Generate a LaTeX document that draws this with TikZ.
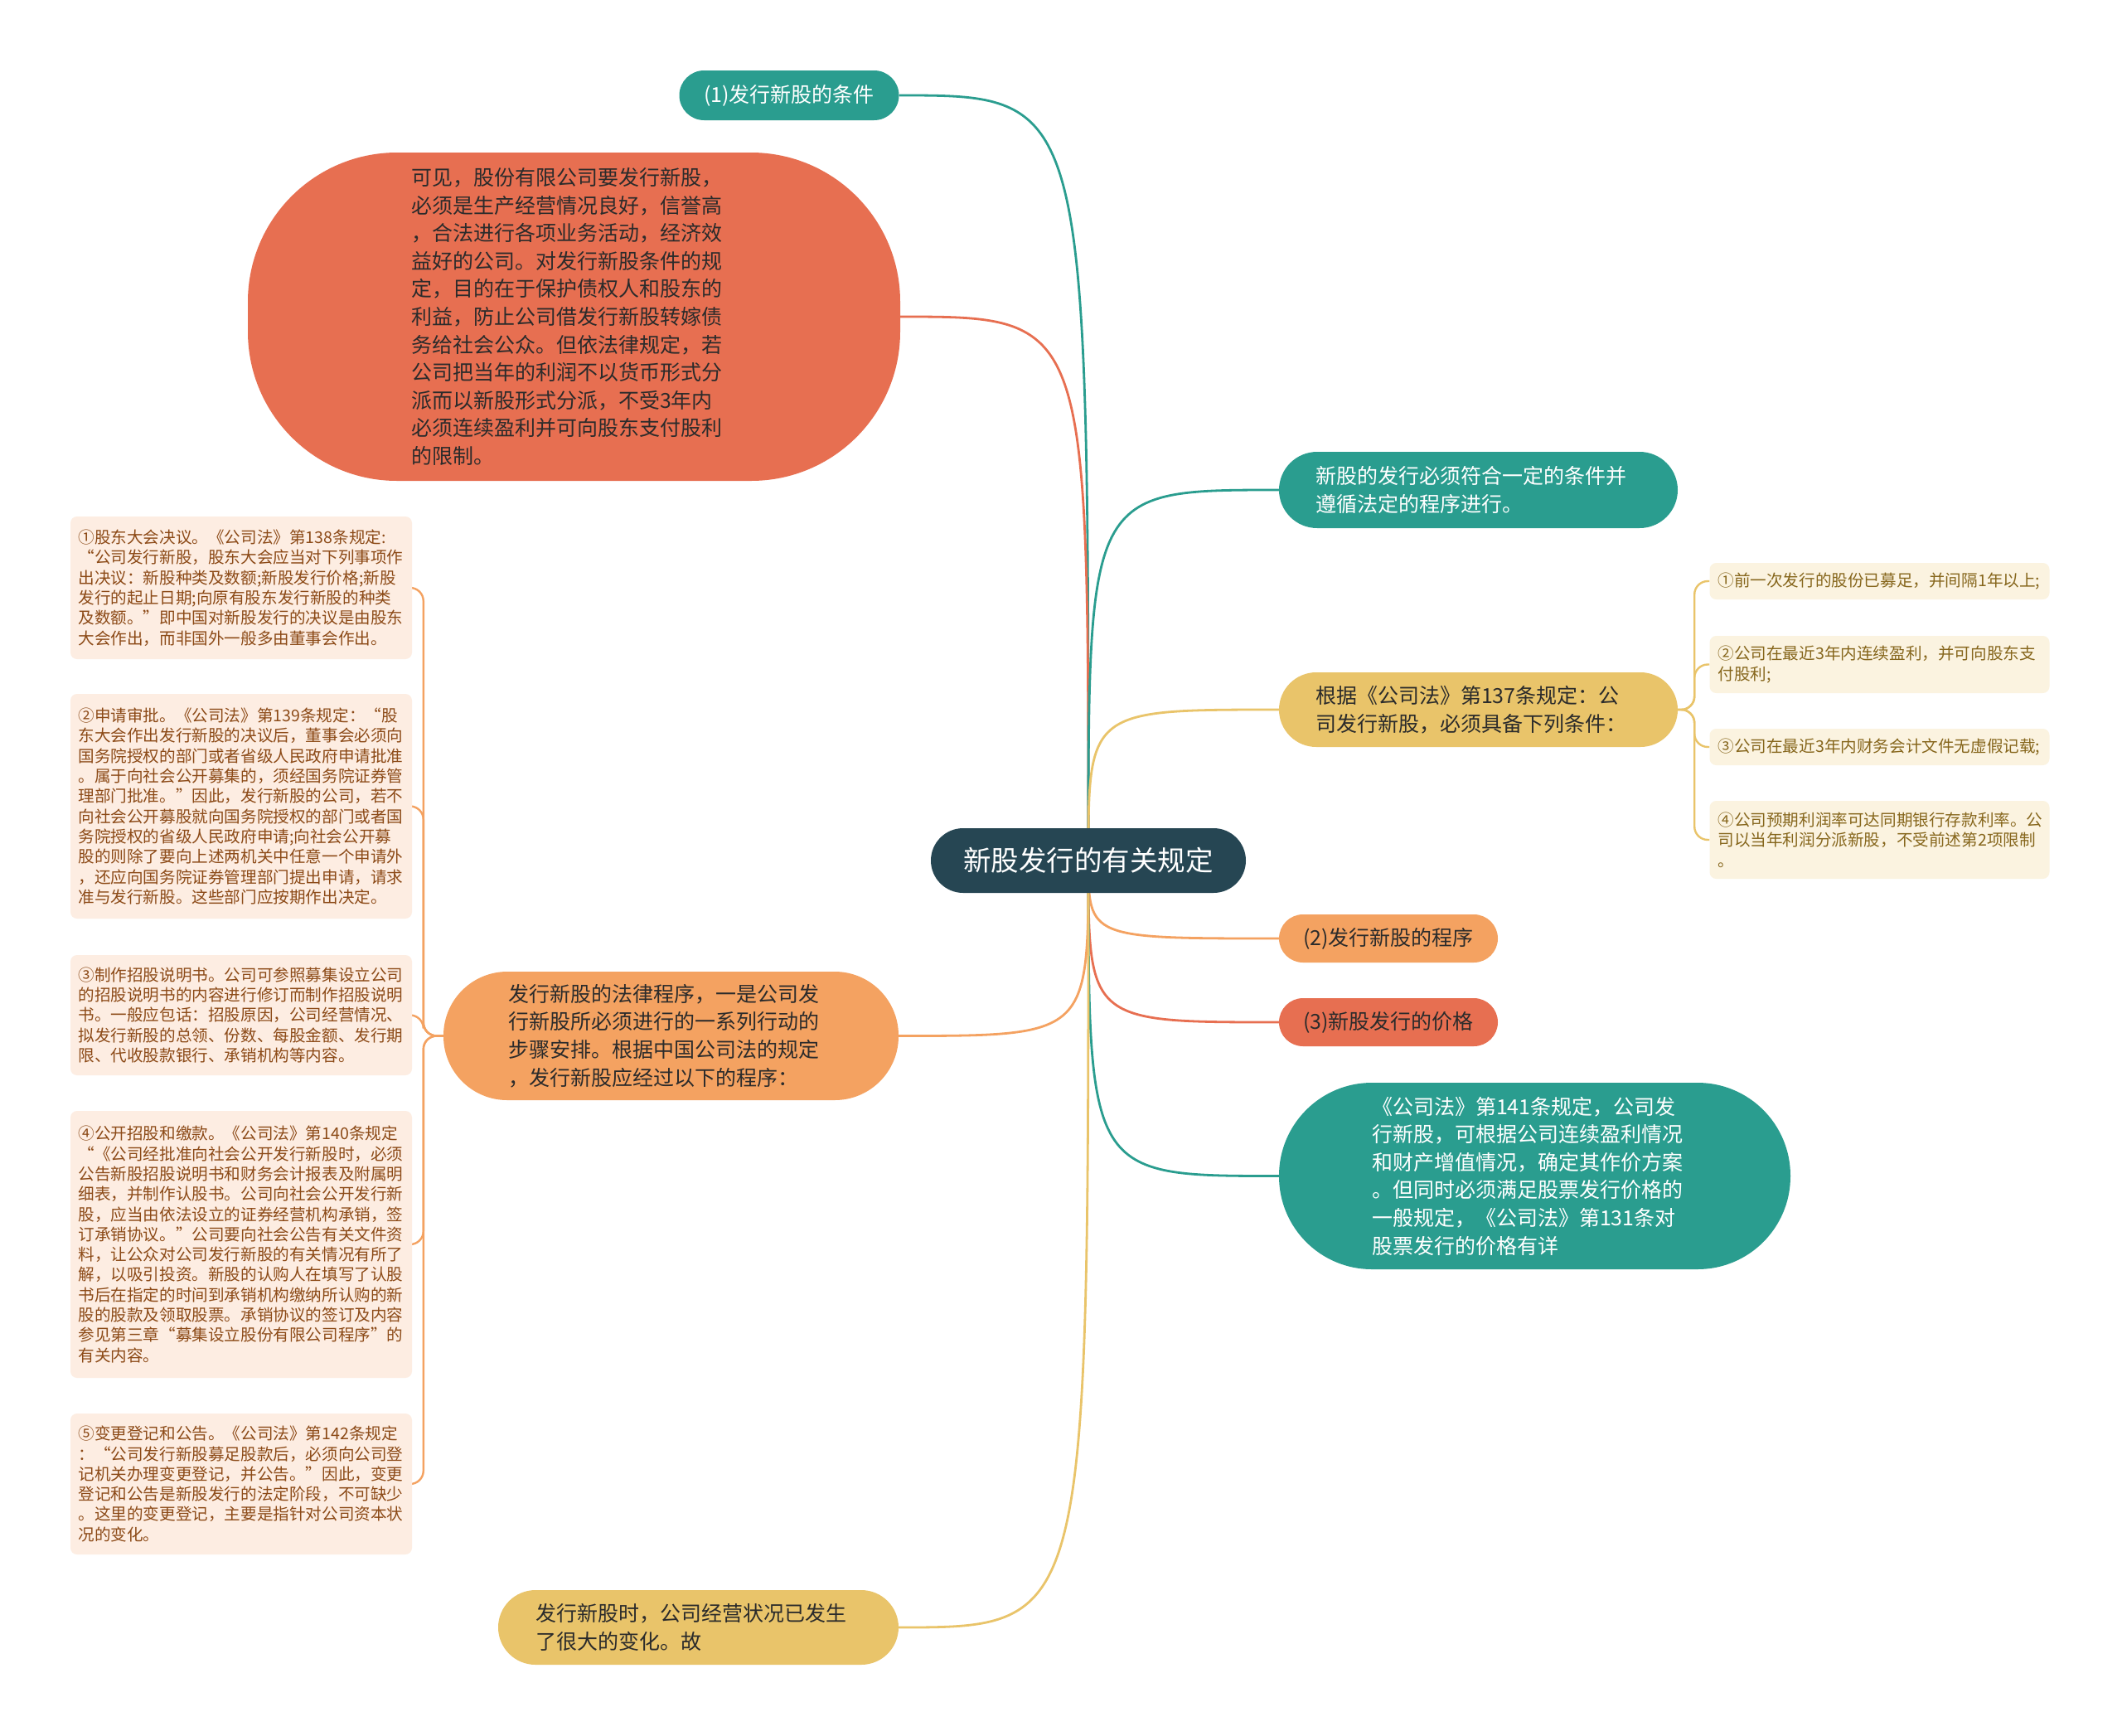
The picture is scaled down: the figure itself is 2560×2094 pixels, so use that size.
\documentclass[tikz,border=0pt]{standalone}
\usepackage{fontspec}
\setmainfont{Noto Sans CJK SC}
\usetikzlibrary{backgrounds}
\definecolor{cteal}{HTML}{2A9D8F}
\definecolor{cyellow}{HTML}{E9C46A}
\definecolor{corange}{HTML}{F4A261}
\definecolor{cred}{HTML}{E76F51}
\definecolor{croot}{HTML}{264653}
\definecolor{cdark}{HTML}{2B2B2B}
\definecolor{lfill}{HTML}{FDEDE2}
\definecolor{ltext}{HTML}{8C4A17}
\definecolor{rfill}{HTML}{FBF3E0}
\definecolor{rtext}{HTML}{86661C}
\tikzset{
  bigtext/.style={font=\fontsize{25}{33.6}\selectfont, align=left, text width=393, inner sep=0pt},
  pill/.style={font=\fontsize{25}{30}\selectfont, align=center, inner sep=0pt, minimum height=60, minimum width=265, rounded corners=30},
  leftbox/.style={font=\fontsize{19.6}{24.3}\selectfont, align=left, text width=393, inner sep=0pt, minimum width=412, fill=lfill, text=ltext, rounded corners=8},
  rightbox/.style={font=\fontsize{19.6}{24.5}\selectfont, align=left, text width=390, inner sep=0pt, minimum width=410, fill=rfill, text=rtext, rounded corners=8},
  conn/.style={line width=2.8pt},
  subconn/.style={line width=2.4pt, rounded corners=16},
}
\begin{document}
\begin{tikzpicture}[x=1pt,y=-1pt]
\useasboundingbox (0,0) rectangle (2560,2094);

% root
\node[fill=croot, text=white, font=\fontsize{33.5}{40}\selectfont, minimum width=380, minimum height=78, rounded corners=39, inner sep=0pt] (root) at (1313,1038) {新股发行的有关规定};

% top / left main nodes
\node[pill, fill=cteal, text=white] (c1) at (952,115) {(1)发行新股的条件};

\node[bigtext, fill=cred, text=cdark, minimum width=787, minimum height=396, rounded corners=180] (red) at (692.5,382) {可见，股份有限公司要发行新股，\\必须是生产经营情况良好，信誉高\\，合法进行各项业务活动，经济效\\益好的公司。对发行新股条件的规\\定，目的在于保护债权人和股东的\\利益，防止公司借发行新股转嫁债\\务给社会公众。但依法律规定，若\\公司把当年的利润不以货币形式分\\派而以新股形式分派，不受3年内\\必须连续盈利并可向股东支付股利\\的限制。};

\node[bigtext, fill=corange, text=cdark, minimum width=549, minimum height=155, rounded corners=77] (proc) at (809.5,1249.5) {发行新股的法律程序，一是公司发\\行新股所必须进行的一系列行动的\\步骤安排。根据中国公司法的规定\\，发行新股应经过以下的程序：};

\node[bigtext, fill=cyellow, text=cdark, minimum width=483, minimum height=90, rounded corners=45] (bot) at (842.5,1963) {发行新股时，公司经营状况已发生\\了很大的变化。故};

% right main nodes
\node[bigtext, fill=cteal, text=white, minimum width=481, minimum height=92, rounded corners=46] (cond) at (1783.5,591) {新股的发行必须符合一定的条件并\\遵循法定的程序进行。};

\node[bigtext, fill=cyellow, text=cdark, minimum width=481, minimum height=90, rounded corners=45] (gen) at (1783.5,856) {根据《公司法》第137条规定：公\\司发行新股，必须具备下列条件：};

\node[pill, fill=corange, text=cdark, minimum width=264, minimum height=58, rounded corners=29] (c2) at (1675,1132) {(2)发行新股的程序};
\node[pill, fill=cred, text=cdark, minimum width=264, minimum height=58, rounded corners=29] (c3) at (1675,1233) {(3)新股发行的价格};

\node[bigtext, fill=cteal, text=white, minimum width=617, minimum height=225, rounded corners=112] (price) at (1851.5,1418.5) {《公司法》第141条规定，公司发\\行新股，可根据公司连续盈利情况\\和财产增值情况，确定其作价方案\\。但同时必须满足股票发行价格的\\一般规定，《公司法》第131条对\\股票发行的价格有详};

% right sub boxes
\node[rightbox, minimum height=44] (r1) at (2267.5,701) {①前一次发行的股份已募足，并间隔1年以上;};
\node[rightbox, minimum height=69] (r2) at (2267.5,801.5) {②公司在最近3年内连续盈利，并可向股东支\\付股利;};
\node[rightbox, minimum height=44] (r3) at (2267.5,901) {③公司在最近3年内财务会计文件无虚假记载;};
\node[rightbox, minimum height=94] (r4) at (2267.5,1013) {④公司预期利润率可达同期银行存款利率。公\\司以当年利润分派新股，不受前述第2项限制\\。};

% left sub boxes
\node[leftbox, minimum height=172] (l1) at (291,709) {①股东大会决议。《公司法》第138条规定:\\“公司发行新股，股东大会应当对下列事项作\\出决议：新股种类及数额;新股发行价格;新股\\发行的起止日期;向原有股东发行新股的种类\\及数额。”即中国对新股发行的决议是由股东\\大会作出，而非国外一般多由董事会作出。};
\node[leftbox, minimum height=271] (l2) at (291,972.5) {②申请审批。《公司法》第139条规定：“股\\东大会作出发行新股的决议后，董事会必须向\\国务院授权的部门或者省级人民政府申请批准\\。属于向社会公开募集的，须经国务院证券管\\理部门批准。”因此，发行新股的公司，若不\\向社会公开募股就向国务院授权的部门或者国\\务院授权的省级人民政府申请;向社会公开募\\股的则除了要向上述两机关中任意一个申请外\\，还应向国务院证券管理部门提出申请，请求\\准与发行新股。这些部门应按期作出决定。};
\node[leftbox, minimum height=145] (l3) at (291,1224.5) {③制作招股说明书。公司可参照募集设立公司\\的招股说明书的内容进行修订而制作招股说明\\书。一般应包话：招股原因，公司经营情况、\\拟发行新股的总领、份数、每股金额、发行期\\限、代收股款银行、承销机构等内容。};
\node[leftbox, minimum height=322] (l4) at (291,1501) {④公开招股和缴款。《公司法》第140条规定\\“《公司经批准向社会公开发行新股时，必须\\公告新股招股说明书和财务会计报表及附属明\\细表，并制作认股书。公司向社会公开发行新\\股，应当由依法设立的证券经营机构承销，签\\订承销协议。”公司要向社会公告有关文件资\\料，让公众对公司发行新股的有关情况有所了\\解，以吸引投资。新股的认购人在填写了认股\\书后在指定的时间到承销机构缴纳所认购的新\\股的股款及领取股票。承销协议的签订及内容\\参见第三章“募集设立股份有限公司程序”的\\有关内容。};
\node[leftbox, minimum height=170] (l5) at (291,1790) {⑤变更登记和公告。《公司法》第142条规定\\：“公司发行新股募足股款后，必须向公司登\\记机关办理变更登记，并公告。”因此，变更\\登记和公告是新股发行的法定阶段，不可缺少\\。这里的变更登记，主要是指针对公司资本状\\况的变化。};

\begin{scope}[on background layer]
\fill[white] (0,0) rectangle (2560,2094);
\draw[conn, cteal] (root.center) .. controls (root.center |- c1.east) .. (c1.east);
\draw[conn, cred] (root.center) .. controls (root.center |- red.east) .. (red.east);
\draw[conn, cteal] (root.center) .. controls (root.center |- cond.west) .. (cond.west);
\draw[conn, cyellow] (root.center) .. controls (root.center |- gen.west) .. (gen.west);
\draw[conn, corange] (root.center) .. controls (root.center |- c2.west) .. (c2.west);
\draw[conn, cred] (root.center) .. controls (root.center |- c3.west) .. (c3.west);
\draw[conn, cteal] (root.center) .. controls (root.center |- price.west) .. (price.west);
\draw[conn, corange] (root.center) .. controls (root.center |- proc.east) .. (proc.east);
\draw[conn, cyellow] (root.center) .. controls (root.center |- bot.east) .. (bot.east);
\foreach \r in {r1,r2,r3,r4}
  \draw[subconn, cyellow] (gen.east) -- ++(20,0) |- (\r.west);
\foreach \l in {l1,l2,l3,l4,l5}
  \draw[subconn, corange] (proc.west) -- ++(-24,0) |- (\l.east);
\end{scope}
\end{tikzpicture}
\end{document}
